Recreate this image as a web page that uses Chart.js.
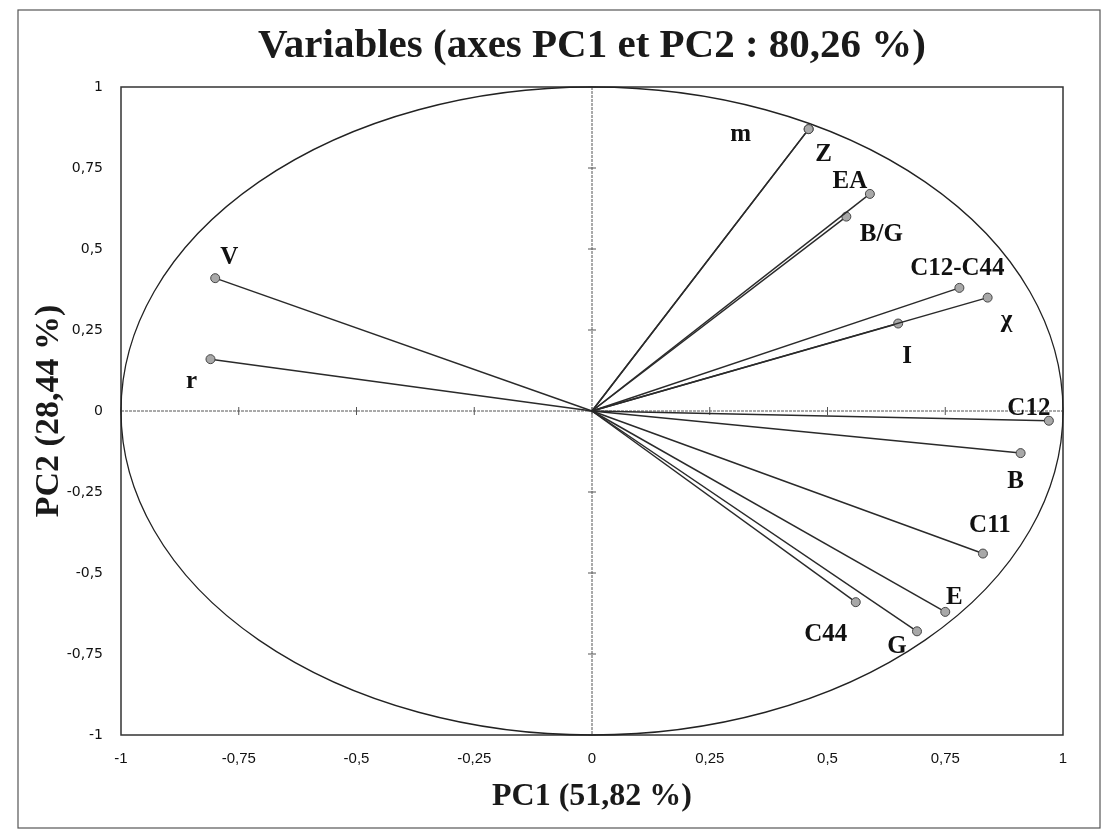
<!DOCTYPE html>
<html>
<head>
<meta charset="utf-8">
<script src="https://cdn.jsdelivr.net/npm/chart.js@4.4.1/dist/chart.umd.min.js"></script>
<style>
  html, body { margin: 0; padding: 0; background: #fff; }
  #wrap { width: 1106px; height: 838px; }
</style>
</head>
<body>
<div id="wrap"><canvas id="canvas" width="1106" height="838"></canvas></div>
<script>
// variables of the correlation circle
const names = ['m', 'Z', 'EA', 'B/G', 'C12-C44', 'χ', 'I', 'C12', 'B', 'C11', 'E', 'G', 'C44', 'V', 'r'];
const pc1 = [0.46, 0.46, 0.59, 0.54, 0.78, 0.84, 0.65, 0.97, 0.91, 0.83, 0.75, 0.69, 0.56, -0.80, -0.81];
const pc2 = [0.87, 0.87, 0.67, 0.60, 0.38, 0.35, 0.27, -0.03, -0.13, -0.44, -0.62, -0.68, -0.59, 0.41, 0.16];
const tickValues = [-1, -0.75, -0.5, -0.25, 0, 0.25, 0.5, 0.75, 1];
const chartTitle = 'Variables (axes PC1 et PC2 : 80,26 %)';

// where each label sits relative to its point (px)
const labelOffsets = [
  [-68, 5], [15, 25], [-20, -12], [35, 18], [-2, -19], [19, 23], [9, 33],
  [-20, -12], [-5, 28], [7, -28], [9, -14], [-20, 15], [-30, 32], [14, -21], [-19, 22]
];

const serif = '"Liberation Serif", "Times New Roman", serif';
const fmt = v => String(v).replace('.', ',');

const datasets = names.map((n, i) => ({
  label: n,
  data: [{x: 0, y: 0}, {x: pc1[i], y: pc2[i]}],
  showLine: true,
  borderColor: '#2a2a2a',
  borderWidth: 1.5,
  pointRadius: [0, 4.5],
  pointBackgroundColor: '#a8a8a8',
  pointBorderColor: '#444',
  pointBorderWidth: 1
}));

const circlePlugin = {
  id: 'circle',
  beforeDatasetsDraw(chart) {
    const {ctx, chartArea: a, scales: {x, y}} = chart;
    const cx = x.getPixelForValue(0), cy = y.getPixelForValue(0);
    ctx.save();
    // plot frame
    ctx.strokeStyle = '#333';
    ctx.lineWidth = 1.5;
    ctx.strokeRect(a.left, a.top, a.right - a.left, a.bottom - a.top);
    // zero axes with small tick marks
    ctx.strokeStyle = '#555';
    ctx.lineWidth = 1;
    ctx.setLineDash([3, 1]);
    ctx.beginPath();
    ctx.moveTo(a.left, cy); ctx.lineTo(a.right, cy);
    ctx.moveTo(cx, a.top); ctx.lineTo(cx, a.bottom);
    ctx.stroke();
    ctx.setLineDash([]);
    ctx.beginPath();
    tickValues.forEach(v => {
      const px = x.getPixelForValue(v), py = y.getPixelForValue(v);
      ctx.moveTo(px, cy - 4); ctx.lineTo(px, cy + 4);
      ctx.moveTo(cx - 4, py); ctx.lineTo(cx + 4, py);
    });
    ctx.stroke();
    // unit circle
    ctx.strokeStyle = '#222';
    ctx.lineWidth = 1.3;
    ctx.beginPath();
    ctx.ellipse(cx, cy, x.getPixelForValue(1) - cx, cy - y.getPixelForValue(1), 0, 0, Math.PI * 2);
    ctx.stroke();
    ctx.restore();
  },
  afterDatasetsDraw(chart) {
    const {ctx, scales: {x, y}} = chart;
    ctx.save();
    ctx.font = 'bold 25px ' + serif;
    ctx.fillStyle = '#111';
    ctx.textAlign = 'center';
    ctx.textBaseline = 'middle';
    names.forEach((n, i) => {
      ctx.fillText(n, x.getPixelForValue(pc1[i]) + labelOffsets[i][0], y.getPixelForValue(pc2[i]) + labelOffsets[i][1]);
    });
    ctx.restore();
  },
  afterDraw(chart) {
    const {ctx, chartArea: a} = chart;
    ctx.save();
    // title, centred over the plot area
    ctx.font = 'bold 41px ' + serif;
    ctx.fillStyle = '#1a1a1a';
    ctx.textAlign = 'center';
    ctx.textBaseline = 'middle';
    ctx.fillText(chartTitle, (a.left + a.right) / 2, 46);
    // outer frame of the figure
    ctx.strokeStyle = '#555';
    ctx.lineWidth = 1.2;
    ctx.strokeRect(18, 10, 1082, 818);
    ctx.restore();
  }
};

new Chart(document.getElementById('canvas'), {
  type: 'scatter',
  data: { datasets: datasets },
  plugins: [circlePlugin],
  options: {
    responsive: false,
    animation: false,
    layout: { padding: { left: 20, right: 43, top: 87, bottom: 0 } },
    plugins: {
      legend: { display: false },
      tooltip: { enabled: false },
      title: { display: false }
    },
    scales: {
      x: {
        type: 'linear', min: -1, max: 1,
        afterFit: s => { s.height = 103; },
        grid: { display: false },
        border: { display: false },
        ticks: {
          stepSize: 0.25, padding: 7, color: '#111',
          font: { family: '"Liberation Sans", sans-serif', size: 15 },
          callback: fmt
        },
        title: {
          display: true, text: 'PC1 (51,82 %)', color: '#1a1a1a',
          font: { family: serif, size: 32, weight: 'bold' },
          padding: { top: 4, bottom: 22 }
        }
      },
      y: {
        type: 'linear', min: -1, max: 1,
        afterFit: s => { s.width = 101; },
        grid: { display: false },
        border: { display: false },
        ticks: {
          stepSize: 0.25, padding: 10, color: '#111',
          font: { family: '"DejaVu Sans", sans-serif', size: 14 },
          callback: fmt
        },
        title: {
          display: true, text: 'PC2 (28,44 %)', color: '#1a1a1a',
          font: { family: serif, size: 34, weight: 'bold' },
          padding: { top: 9, bottom: 0 }
        }
      }
    }
  }
});
</script>
</body>
</html>
